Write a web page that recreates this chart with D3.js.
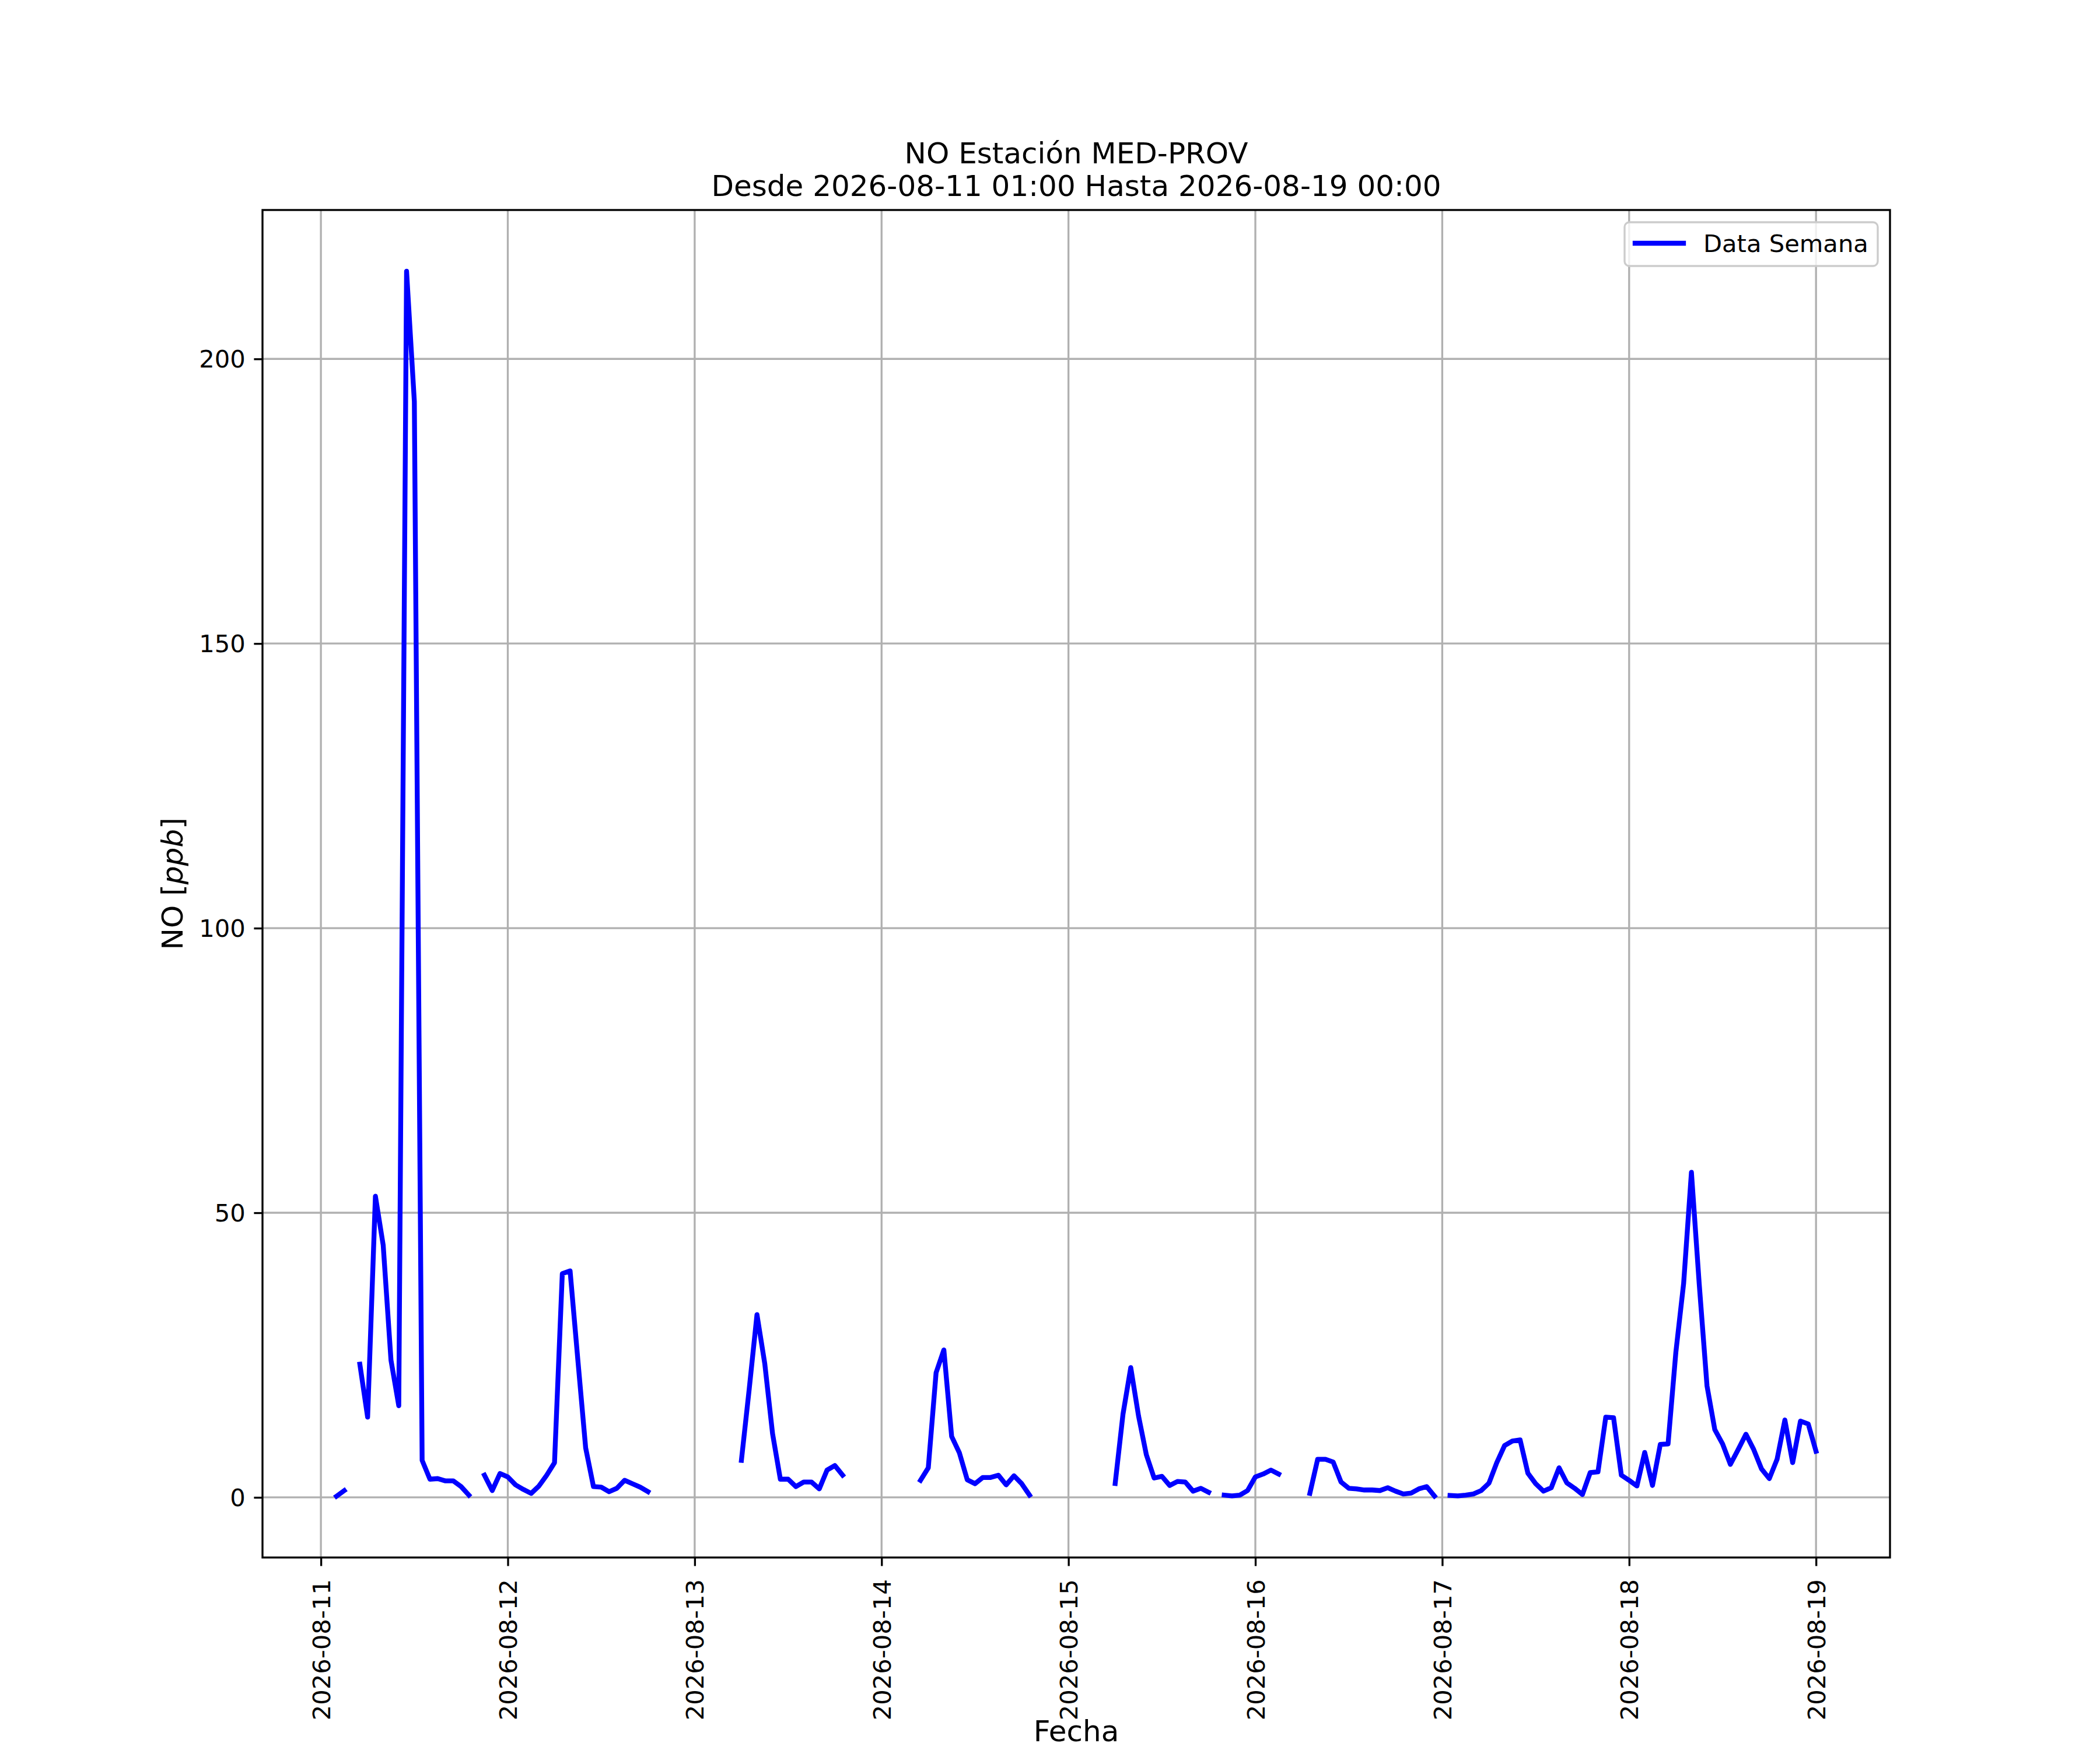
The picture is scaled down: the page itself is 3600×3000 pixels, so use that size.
<!DOCTYPE html>
<html>
<head>
<meta charset="utf-8">
<script src="https://cdn.jsdelivr.net/npm/d3@7"></script>
<style>
  html, body { margin: 0; padding: 0; background: #ffffff; }
  svg { display: block; }
</style>
</head>
<body>
<script>
// ---------------- DATA ----------------
const chartTitle = "NO Estación MED-PROV";
const chartSubtitle = "Desde 2026-08-11 01:00 Hasta 2026-08-19 00:00";
const seriesName = "Data Semana";
const xLabel = "Fecha";
const firstHour = [2026, 7, 11, 1]; // 2026-08-11 01:00, hourly series

// Hourly NO values (ppb); each row = 24 hours, 01:00 ... 24:00 (next day 00:00); null = missing
const day11 = [null, 0.2, 1.2, null, 23.4, 14.1, 52.9, 44.3, 24.1, 16.1, 215.4, 192.5,
               6.5, 3.2, 3.3, 2.9, 2.9, 1.9, 0.4, null, 3.9, 1.2, 4.2, 3.6];
const day12 = [2.2, 1.4, 0.7, 2.0, 3.9, 6.1, 39.3, 39.8, 24.1, 8.7, 1.9, 1.8,
               1.0, 1.6, 3.0, 2.4, 1.8, 1.0, null, null, null, null, null, null];
const day13 = [null, null, null, null, null, 6.5, 19.0, 32.1, 23.5, 11.2, 3.2, 3.2,
               1.9, 2.7, 2.7, 1.5, 4.8, 5.6, 3.9, null, null, null, null, null];
const day14 = [null, null, null, null, 3.0, 5.2, 21.9, 25.9, 10.7, 7.8, 3.1, 2.4,
               3.5, 3.5, 3.9, 2.2, 3.8, 2.4, 0.4, null, null, null, null, null];
const day15 = [null, null, null, null, null, 2.45, 14.6, 22.8, 14.3, 7.5, 3.4, 3.7,
               2.1, 2.8, 2.7, 1.1, 1.6, 0.9, null, 0.4, 0.27, 0.4, 1.2, 3.6];
const day16 = [4.1, 4.8, 4.1, null, null, null, 0.7, 6.7, 6.7, 6.2, 2.7, 1.6,
               1.5, 1.3, 1.3, 1.2, 1.7, 1.1, 0.6, 0.75, 1.5, 1.9, 0.24, null];
const day17 = [0.34, 0.27, 0.4, 0.6, 1.2, 2.5, 6.1, 9.1, 9.9, 10.1, 4.25, 2.4,
               1.1, 1.7, 5.2, 2.55, 1.6, 0.5, 4.35, 4.5, 14.1, 14.0, 3.9, 3.0];
const day18 = [2.0, 7.9, 2.1, 9.3, 9.4, 25.5, 37.6, 57.1, 37.5, 19.6, 11.9, 9.4,
               5.8, 8.4, 11.1, 8.4, 5.0, 3.3, 6.7, 13.6, 6.1, 13.4, 12.9, 8.1];

const xTickLabels = ["2026-08-11", "2026-08-12", "2026-08-13", "2026-08-14", "2026-08-15",
                     "2026-08-16", "2026-08-17", "2026-08-18", "2026-08-19"];
const yTickValues = [0, 50, 100, 150, 200];

// ---------------- LAYOUT ----------------
const W = 3600, H = 3000;
const mL = 450, mR = 3240, mT = 360, mB = 2670;
const FONT = "DejaVu Sans, sans-serif";
const tickFont = 41.67, labelFont = 50;
const tickLen = 14.6, tickPad = 14.6;
const gridColor = "#b0b0b0";

const allValues = [].concat(day11, day12, day13, day14, day15, day16, day17, day18);
const t0 = Date.UTC(...firstHour);
const data = allValues.map((v, i) => ({ t: new Date(t0 + i * 3600e3), v: v }));
const definedData = data.filter(d => d.v != null);

const tExt = d3.extent(definedData, d => +d.t);
const tPad = (tExt[1] - tExt[0]) * 0.05;
const vExt = d3.extent(definedData, d => d.v);
const vPad = (vExt[1] - vExt[0]) * 0.05;

const x = d3.scaleUtc().domain([new Date(tExt[0] - tPad), new Date(tExt[1] + tPad)]).range([mL, mR]);
const y = d3.scaleLinear().domain([vExt[0] - vPad, vExt[1] + vPad]).range([mB, mT]);

const xTicks = xTickLabels.map(s => new Date(s + "T00:00:00Z"));

const svg = d3.select("body").append("svg")
  .attr("width", W).attr("height", H)
  .attr("viewBox", `0 0 ${W} ${H}`)
  .style("font-family", FONT);

svg.append("rect").attr("width", W).attr("height", H).attr("fill", "#ffffff");

// clip
svg.append("clipPath").attr("id", "plotclip")
  .append("rect").attr("x", mL).attr("y", mT).attr("width", mR - mL).attr("height", mB - mT);

// grid
const grid = svg.append("g");
grid.selectAll("line.vg").data(xTicks).join("line").attr("class", "vg")
  .attr("x1", d => x(d)).attr("x2", d => x(d))
  .attr("y1", mT).attr("y2", mB)
  .attr("stroke", gridColor).attr("stroke-width", 3.33);
grid.selectAll("line.hg").data(yTickValues).join("line").attr("class", "hg")
  .attr("x1", mL).attr("x2", mR)
  .attr("y1", d => y(d)).attr("y2", d => y(d))
  .attr("stroke", gridColor).attr("stroke-width", 3.33);

// series line
const line = d3.line()
  .defined(d => d.v != null)
  .x(d => x(d.t))
  .y(d => y(d.v));
svg.append("path")
  .datum(data)
  .attr("clip-path", "url(#plotclip)")
  .attr("d", line)
  .attr("fill", "none")
  .attr("stroke", "#0000ff")
  .attr("stroke-width", 8.33)
  .attr("stroke-linejoin", "round")
  .attr("stroke-linecap", "square");

// axes via d3
const xAxis = d3.axisBottom(x).tickValues(xTicks)
  .tickFormat((d, i) => xTickLabels[i]).tickSize(tickLen).tickPadding(tickPad);
const gx = svg.append("g").attr("transform", `translate(0,${mB})`).call(xAxis);
gx.select(".domain").remove();
gx.selectAll(".tick line").attr("stroke", "#000").attr("stroke-width", 3.33);
gx.selectAll(".tick text")
  .attr("font-size", tickFont).attr("font-family", FONT).attr("fill", "#000")
  .attr("y", 0).attr("dy", "0.36em")
  .attr("text-anchor", "end")
  .attr("transform", `translate(0,${tickLen + tickPad + 8}) rotate(-90)`);

const yAxis = d3.axisLeft(y).tickValues(yTickValues)
  .tickFormat(d3.format("d")).tickSize(tickLen).tickPadding(tickPad);
const gy = svg.append("g").attr("transform", `translate(${mL},0)`).call(yAxis);
gy.select(".domain").remove();
gy.selectAll(".tick line").attr("stroke", "#000").attr("stroke-width", 3.33);
gy.selectAll(".tick text")
  .attr("font-size", tickFont).attr("font-family", FONT).attr("fill", "#000")
  .attr("dy", "0.35em");

// spines
svg.append("rect")
  .attr("x", mL).attr("y", mT).attr("width", mR - mL).attr("height", mB - mT)
  .attr("fill", "none").attr("stroke", "#000").attr("stroke-width", 3.33);

// title
const cx = (mL + mR) / 2;
svg.append("text").attr("x", cx).attr("y", 280).attr("text-anchor", "middle")
  .attr("font-size", labelFont).attr("fill", "#000").text(chartTitle);
svg.append("text").attr("x", cx).attr("y", 336).attr("text-anchor", "middle")
  .attr("font-size", labelFont).attr("fill", "#000").text(chartSubtitle);

// axis labels
svg.append("text").attr("x", cx).attr("y", 2985).attr("text-anchor", "middle")
  .attr("font-size", labelFont).attr("fill", "#000").text(xLabel);

const yl = svg.append("text")
  .attr("transform", `translate(313,${(mT + mB) / 2}) rotate(-90)`)
  .attr("text-anchor", "middle").attr("font-size", labelFont).attr("fill", "#000");
yl.append("tspan").text("NO [");
yl.append("tspan").attr("font-style", "italic").text("ppb");
yl.append("tspan").text("]");

// legend
const lg = svg.append("g");
lg.append("rect")
  .attr("x", 2785).attr("y", 381).attr("width", 434).attr("height", 75)
  .attr("rx", 8).attr("ry", 8)
  .attr("fill", "#ffffff").attr("fill-opacity", 0.8)
  .attr("stroke", "#cccccc").attr("stroke-width", 3.33);
lg.append("line")
  .attr("x1", 2803).attr("x2", 2886).attr("y1", 417).attr("y2", 417)
  .attr("stroke", "#0000ff").attr("stroke-width", 8.33).attr("stroke-linecap", "square");
lg.append("text").attr("x", 2920).attr("y", 432)
  .attr("font-size", tickFont).attr("fill", "#000").text(seriesName);
</script>
</body>
</html>
